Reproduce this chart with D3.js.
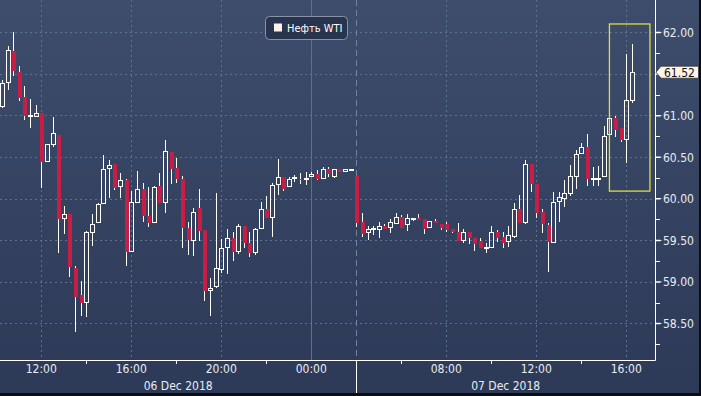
<!DOCTYPE html>
<html>
<head>
<meta charset="utf-8">
<script src="https://cdn.jsdelivr.net/npm/d3@7"></script>
<style>
  body { margin: 0; background: #111; }
  svg { display: block; font-family: "DejaVu Sans Condensed", "DejaVu Sans", sans-serif; }
</style>
</head>
<body>
<svg id="chart"></svg>
<script>
var width = 701,
    height = 396,
    axisX = 655,
    axisY = 360;

// 15-minute candles, index 0 = 06 Dec 12:00
var firstIndex = -7;
var opens  = [61.10,61.39,61.78,61.52,61.22,60.99,60.98,61.03,60.44,60.65,60.77,59.76,59.82,59.17,58.84,58.75,59.59,59.71,59.93,60.35,60.42,60.14,60.22,59.36,59.95,60.12,59.79,59.71,60.15,59.95,60.56,60.37,60.24,59.65,59.49,59.89,59.62,58.89,58.94,59.14,59.41,59.52,59.36,59.67,59.46,59.35,59.63,59.87,59.77,60.16,60.26,60.14,60.24,60.24,60.24,60.26,60.30,60.24,60.36,60.26,60.36,60.32,60.35,60.27,59.72,59.59,59.64,59.62,59.67,59.65,59.70,59.78,59.68,59.76,59.77,59.76,59.65,59.73,59.70,59.69,59.63,59.60,59.49,59.60,59.53,59.49,59.41,59.41,59.60,59.54,59.48,59.54,59.88,59.71,60.42,60.18,59.84,59.68,59.47,59.96,60.00,60.06,60.26,60.54,60.62,60.24,60.23,60.26,60.76,60.97,60.85,60.71,61.17];
var highs  = [61.43,61.83,62.00,61.59,61.35,61.20,61.13,61.03,60.66,60.98,60.77,59.91,59.82,59.19,59.01,59.61,59.82,59.95,60.52,60.47,60.42,60.31,60.23,60.09,60.33,60.19,60.14,60.15,60.31,60.70,60.56,60.49,60.27,59.72,59.89,60.12,59.62,59.04,60.07,59.51,59.63,59.60,59.69,59.67,59.60,59.65,59.96,60.03,60.19,60.48,60.26,60.26,60.28,60.31,60.32,60.32,60.34,60.38,60.38,60.36,60.36,60.36,60.35,60.27,59.83,59.67,59.67,59.72,59.70,59.76,59.83,59.80,59.81,59.77,59.82,59.76,59.73,59.76,59.70,59.72,59.63,59.71,59.64,59.60,59.53,59.53,59.46,59.67,59.62,59.60,59.67,59.95,60.04,60.47,60.42,60.18,59.88,59.71,60.08,60.08,60.22,60.40,60.58,60.67,60.78,60.38,60.39,60.87,60.97,60.99,60.85,61.74,61.86];
var lows   = [61.09,61.31,61.48,61.17,60.94,60.85,60.98,60.13,60.44,60.62,59.35,59.57,59.06,58.39,58.59,58.57,59.43,59.71,59.93,60.01,60.10,60.01,59.19,59.36,59.95,59.72,59.66,59.71,59.95,59.83,60.18,60.19,59.40,59.32,59.31,59.49,58.77,58.59,58.93,59.11,59.09,59.25,59.33,59.41,59.30,59.32,59.63,59.77,59.54,60.04,60.09,60.14,60.20,60.18,60.16,60.26,60.22,60.24,60.26,60.25,60.32,60.32,60.33,59.66,59.54,59.50,59.56,59.52,59.63,59.59,59.70,59.65,59.61,59.73,59.74,59.58,59.65,59.71,59.62,59.60,59.59,59.49,59.47,59.45,59.37,59.41,59.35,59.41,59.48,59.40,59.42,59.53,59.71,59.70,60.08,59.77,59.59,59.12,59.47,59.72,59.90,60.03,60.12,60.54,60.15,60.15,60.15,60.26,60.76,60.74,60.68,60.43,61.15];
var closes = [61.39,61.79,61.53,61.21,60.99,61.00,61.03,60.44,60.66,60.79,59.75,59.82,59.18,58.82,58.74,59.60,59.70,59.93,60.36,60.40,60.13,60.22,59.36,59.96,60.12,59.79,59.71,60.14,59.95,60.57,60.36,60.24,59.65,59.50,59.84,59.61,58.89,58.93,59.16,59.41,59.53,59.36,59.67,59.46,59.34,59.63,59.87,59.77,60.16,60.26,60.12,60.23,60.26,60.23,60.25,60.30,60.24,60.35,60.30,60.36,60.32,60.36,60.35,59.71,59.57,59.64,59.65,59.67,59.63,59.72,59.78,59.65,59.77,59.77,59.74,59.64,59.73,59.71,59.65,59.62,59.60,59.49,59.60,59.53,59.45,59.41,59.42,59.60,59.53,59.46,59.56,59.88,59.71,60.42,60.18,59.83,59.69,59.48,59.96,60.02,60.07,60.27,60.54,60.62,60.23,60.25,60.25,60.75,60.97,60.82,60.71,61.19,61.52];

var timeTickIdx = [0, 16, 32, 48, 72, 88, 104];
var timeLabels = ["12:00", "16:00", "20:00", "00:00", "08:00", "12:00", "16:00"];
var minorTimeIdx = [8, 24, 40, 64, 80, 96];
var dayBreakIdx = 56;
var dayLabels = ["06 Dec 2018", "07 Dec 2018"];
var priceTicks = [58.5, 59, 59.5, 60, 60.5, 61, 61.5, 62];
var minorPriceTicks = [58.25, 58.75, 59.25, 59.75, 60.25, 60.75, 61.25, 61.75];
var lastPrice = 61.52;
var seriesName = "Нефть WTI";
var highlight = { from: 101, to: 108.2, low: 60.09, high: 62.1 };

var candles = closes.map(function(c, i) {
  return { idx: firstIndex + i, o: opens[i], h: highs[i], l: lows[i], c: c };
});

var x = d3.scaleLinear().domain([0, 104]).range([41.3, 626.3]);
var y = d3.scaleLinear().domain([58.5, 62]).range([323.3, 32.3]);

var svg = d3.select("#chart").attr("width", width).attr("height", height);

var grad = svg.append("defs").append("linearGradient")
    .attr("id", "bg").attr("x1", 0).attr("y1", 0).attr("x2", 0).attr("y2", 1);
grad.append("stop").attr("offset", "0%").attr("stop-color", "#3e4d6c");
grad.append("stop").attr("offset", "100%").attr("stop-color", "#2c3957");

svg.append("rect").attr("width", width).attr("height", height).attr("fill", "url(#bg)");

// grid
svg.append("g").selectAll("line")
    .data(priceTicks).enter().append("line")
    .attr("x1", 0).attr("x2", axisX)
    .attr("y1", function(d) { return Math.round(y(d)) + 0.5; })
    .attr("y2", function(d) { return Math.round(y(d)) + 0.5; })
    .attr("stroke", "#5c7090").attr("stroke-dasharray", "2,3");

svg.append("g").selectAll("line")
    .data(timeTickIdx).enter().append("line")
    .attr("x1", function(d) { return Math.round(x(d)) + 0.5; })
    .attr("x2", function(d) { return Math.round(x(d)) + 0.5; })
    .attr("y1", 0).attr("y2", axisY)
    .attr("stroke", "#5c7090")
    .attr("stroke-dasharray", function(d, i) { return timeLabels[i] == "00:00" ? null : "2,3"; });

var breakX = Math.round(x(dayBreakIdx)) + 0.5;
svg.append("line")
    .attr("x1", breakX).attr("x2", breakX).attr("y1", 0).attr("y2", axisY)
    .attr("stroke", "#6f84a4").attr("stroke-dasharray", "6,4");

// candles
var cg = svg.append("g").attr("shape-rendering", "crispEdges");
var node = cg.selectAll("g").data(candles).enter().append("g");

node.each(function(d) {
  var g = d3.select(this),
      cx = Math.round(x(d.idx)),
      up = d.c >= d.o,
      top = Math.round(y(Math.max(d.o, d.c))),
      bot = Math.round(y(Math.min(d.o, d.c)));
  if (bot - top < 1) { bot = top + 1; }
  var col = up ? "#ffffff" : "#c81e45";
  g.append("line").attr("x1", cx + 0.5).attr("x2", cx + 0.5)
      .attr("y1", y(d.h)).attr("y2", top).attr("stroke", "#ffffff");
  g.append("line").attr("x1", cx + 0.5).attr("x2", cx + 0.5)
      .attr("y1", bot).attr("y2", y(d.l)).attr("stroke", "#ffffff");
  if (up) {
    g.append("rect").attr("x", cx - 1.5).attr("y", top + 0.5)
        .attr("width", 4).attr("height", Math.max(bot - top - 1, 0.5))
        .attr("fill", "none").attr("stroke", col);
  } else {
    g.append("rect").attr("x", cx - 1.5).attr("y", top)
        .attr("width", 4.5).attr("height", bot - top)
        .attr("fill", col);
  }
});

// highlight box
svg.append("rect")
    .attr("x", x(highlight.from)).attr("y", y(highlight.high))
    .attr("width", x(highlight.to) - x(highlight.from))
    .attr("height", y(highlight.low) - y(highlight.high))
    .attr("fill", "none").attr("stroke", "#dede3a").attr("stroke-width", 1.3);

// axes lines
svg.append("line").attr("x1", 0).attr("x2", axisX + 0.5).attr("y1", axisY + 0.5).attr("y2", axisY + 0.5)
    .attr("stroke", "#ffffff");
svg.append("line").attr("x1", axisX + 0.5).attr("x2", axisX + 0.5).attr("y1", 0).attr("y2", axisY + 0.5)
    .attr("stroke", "#ffffff");
svg.append("line").attr("x1", breakX).attr("x2", breakX).attr("y1", axisY).attr("y2", height)
    .attr("stroke", "#ffffff");

// y ticks
svg.append("g").selectAll("path")
    .data(priceTicks).enter().append("path")
    .attr("d", function(d) {
      var ty = y(d);
      return "M" + axisX + "," + (ty - 0.5) + "L" + (axisX + 5) + "," + (ty - 0.5) +
             "L" + (axisX + 7) + "," + ty + "L" + (axisX + 5) + "," + (ty + 1) +
             "L" + axisX + "," + (ty + 1) + "Z";
    })
    .attr("fill", "#ffffff");

svg.append("g").selectAll("line")
    .data(minorPriceTicks).enter().append("line")
    .attr("x1", axisX).attr("x2", axisX + 5)
    .attr("y1", function(d) { return Math.round(y(d)) + 0.5; })
    .attr("y2", function(d) { return Math.round(y(d)) + 0.5; })
    .attr("stroke", "#ffffff");

// labels hidden behind the last-price tag are left out
var shownPriceTicks = priceTicks.filter(function(d) { return Math.abs(d - lastPrice) > 0.1; });
svg.append("g").selectAll("text")
    .data(shownPriceTicks).enter().append("text")
    .attr("x", axisX + 8).attr("y", function(d) { return y(d) + 4.5; })
    .attr("fill", "#e9ecf2").attr("font-size", "12px")
    .text(function(d) { return d.toFixed(2); });

// x ticks and labels
svg.append("g").selectAll("line")
    .data(minorTimeIdx).enter().append("line")
    .attr("x1", function(d) { return Math.round(x(d)) + 0.5; })
    .attr("x2", function(d) { return Math.round(x(d)) + 0.5; })
    .attr("y1", axisY).attr("y2", axisY + 4)
    .attr("stroke", "#ffffff");

svg.append("g").selectAll("text")
    .data(timeTickIdx).enter().append("text")
    .attr("x", function(d) { return x(d); }).attr("y", 373)
    .attr("text-anchor", "middle")
    .attr("fill", "#e9ecf2").attr("font-size", "12px")
    .text(function(d, i) { return timeLabels[i]; });

var dayCenters = [x(dayBreakIdx) / 2, (x(dayBreakIdx) + axisX) / 2];
svg.append("g").selectAll("text")
    .data(dayLabels).enter().append("text")
    .attr("x", function(d, i) { return dayCenters[i]; }).attr("y", 390)
    .attr("text-anchor", "middle")
    .attr("fill", "#e9ecf2").attr("font-size", "12px")
    .text(function(d) { return d; });

// last price tag
var tagY = y(lastPrice);
svg.append("path")
    .attr("d", "M" + (axisX + 1) + "," + tagY + "L" + (axisX + 6) + "," + (tagY - 6) +
               "L" + 698.5 + "," + (tagY - 6) + "L" + 698.5 + "," + (tagY + 6) +
               "L" + (axisX + 6) + "," + (tagY + 6) + "Z")
    .attr("fill", "#fff4e8").attr("stroke", "#3a3a3a").attr("stroke-width", 0.8);
svg.append("text")
    .attr("x", axisX + 9).attr("y", tagY + 4.5)
    .attr("fill", "#111").attr("font-size", "12px")
    .text(lastPrice.toFixed(2));

// legend
var legend = svg.append("g");
legend.append("rect")
    .attr("x", 265.5).attr("y", 16.5).attr("width", 82).attr("height", 23).attr("rx", 4)
    .attr("fill", "#29344f").attr("stroke", "#8a93a6");
legend.append("rect")
    .attr("x", 274).attr("y", 23.5).attr("width", 8).attr("height", 8)
    .attr("fill", "#fdf1ec");
legend.append("text")
    .attr("x", 287).attr("y", 32)
    .attr("fill", "#ffffff").attr("font-size", "11px")
    .text(seriesName);

// frame edges
svg.append("rect").attr("x", 699).attr("y", 0).attr("width", 2).attr("height", height).attr("fill", "#0b0d12");
svg.append("rect").attr("x", 0).attr("y", 393).attr("width", width).attr("height", 3).attr("fill", "#0b0d12");
</script>
</body>
</html>
